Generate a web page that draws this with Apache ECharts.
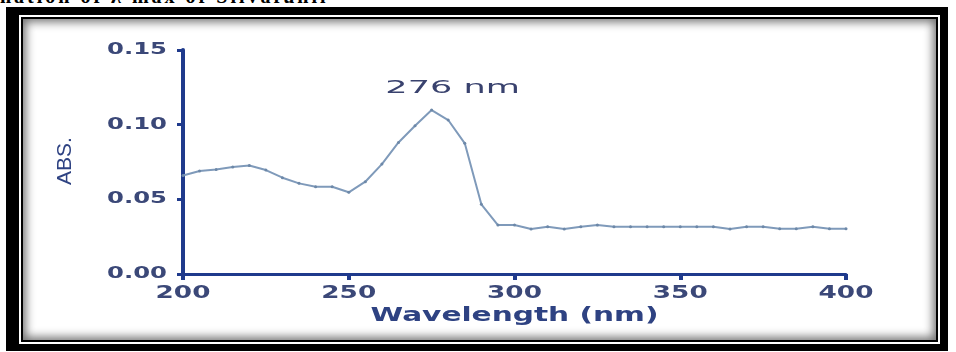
<!DOCTYPE html>
<html>
<head>
<meta charset="utf-8">
<script src="https://cdn.jsdelivr.net/npm/echarts@6/dist/echarts.min.js"></script>
<style>
  html, body { margin:0; padding:0; width:956px; height:352px; overflow:hidden; background:#fff; }
  #caption { position:absolute; left:0; top:-14px; font:bold 20px/20px "Liberation Serif", "Times New Roman", serif; color:#000; white-space:nowrap; letter-spacing:3px; }
  #outer { position:absolute; left:6px; top:7px; width:942px; height:344px; box-sizing:border-box; background:#000; }
  #white { position:absolute; left:13px; top:8px; right:8px; bottom:7px; background:#fff; }
  #thin { position:absolute; left:2px; top:2px; right:2px; bottom:2px; background:#000; }
  #inner { position:absolute; left:2px; top:2px; right:2px; bottom:2px; background:#fff; box-shadow: inset 0 0 10px 3px rgba(0,0,0,0.55); }
  #chart { position:absolute; left:0; top:0; width:956px; height:352px; }
</style>
</head>
<body>
<div id="caption">nation of λ max of Silvafunil</div>
<div id="outer"><div id="white"><div id="thin"><div id="inner"></div></div></div></div>
<div id="chart"></div>
<script>
const wavelengths = [200,205,210,215,220,225,230,235,240,245,250,255,260,265,270,275,280,285,290,295,300,305,310,315,320,325,330,335,340,345,350,355,360,365,370,375,380,385,390,395,400];
const absorbance = [0.066,0.069,0.070,0.0716,0.0727,0.0696,0.0645,0.0607,0.0584,0.0584,0.0547,0.0618,0.0736,0.0881,0.0993,0.1098,0.1031,0.0875,0.0467,0.0328,0.0328,0.0301,0.0317,0.0301,0.0317,0.0328,0.0317,0.0317,0.0317,0.0317,0.0317,0.0317,0.0317,0.0301,0.0317,0.0317,0.0303,0.0303,0.0317,0.0303,0.0303];
const yTicks = [0.00,0.05,0.10,0.15];
const xTicks = [200,250,300,350,400];
const peakLabel = "276 nm";
const peakAt = [275, 0.1098];
const xTitle = "Wavelength (nm)";
const yTitle = "ABS.";

const axisColor = '#1f3a8c';
const labelColor = '#3b4878';
const titleColor = '#2e4282';
const chart = echarts.init(document.getElementById('chart'), null, {renderer:'canvas'});
chart.setOption({
  animation:false,
  backgroundColor:'transparent',
  grid:{left:183, right:110, top:50, bottom:78, containLabel:false},
  xAxis:{
    type:'value', min:200, max:400, interval:50,
    axisLine:{lineStyle:{color:axisColor, width:3}},
    axisTick:{show:true, length:6, lineStyle:{color:axisColor, width:4}},
    axisLabel:{show:false},
    splitLine:{show:false}
  },
  yAxis:{
    type:'value', min:0, max:0.15, interval:0.05,
    axisLine:{show:true, lineStyle:{color:axisColor, width:4}},
    axisTick:{show:true, length:6, lineStyle:{color:axisColor, width:3}},
    axisLabel:{show:false},
    splitLine:{show:false}
  },
  series:[{
    type:'line',
    data:wavelengths.map((w,i)=>[w,absorbance[i]]),
    symbol:'circle', symbolSize:3,
    itemStyle:{color:'#6d88a8'},
    lineStyle:{color:'#7f9aba', width:2},
    z:3
  }]
});

// Text in the reference is horizontally stretched; draw it with scaled text elements
function txt(str, x, y, opts){
  return Object.assign({
    type:'text', x:x, y:y, silent:true, z:10,
    style:{text:str, fill:opts.fill||labelColor, font:opts.font,
      textAlign:opts.align||'center', align:opts.align||'center',
      textVerticalAlign:'middle', verticalAlign:'middle'}
  }, opts.el||{});
}
const els = [];
xTicks.forEach(v=>{
  const p = chart.convertToPixel({gridIndex:0},[v,0]);
  els.push(txt(String(v), p[0], p[1]+19.5, {font:'bold 18px "DejaVu Sans"', el:{scaleX:1.46}}));
});
yTicks.forEach(v=>{
  const p = chart.convertToPixel({gridIndex:0},[200,v]);
  els.push(txt(v.toFixed(2), p[0]-16, p[1], {font:'bold 15px "DejaVu Sans"', align:'right', el:{scaleX:1.62}}));
});
const pk = chart.convertToPixel({gridIndex:0}, peakAt);
els.push(txt(peakLabel, pk[0]+21, pk[1]-22, {font:'18px "DejaVu Sans"', fill:'#39426e', el:{scaleX:1.95}}));
const o = chart.convertToPixel({gridIndex:0},[300,0]);
els.push(txt(xTitle, o[0], o[1]+41.5, {font:'bold 20px "DejaVu Sans"', fill:titleColor, el:{scaleX:1.48}}));
const ym = chart.convertToPixel({gridIndex:0},[200,0.075]);
els.push(txt(yTitle, 65, ym[1]-1, {font:'21px "Liberation Sans Narrow", "Liberation Sans", sans-serif', fill:titleColor, el:{rotation:Math.PI/2}}));
chart.setOption({graphic:{elements:els}});
</script>
</body>
</html>
